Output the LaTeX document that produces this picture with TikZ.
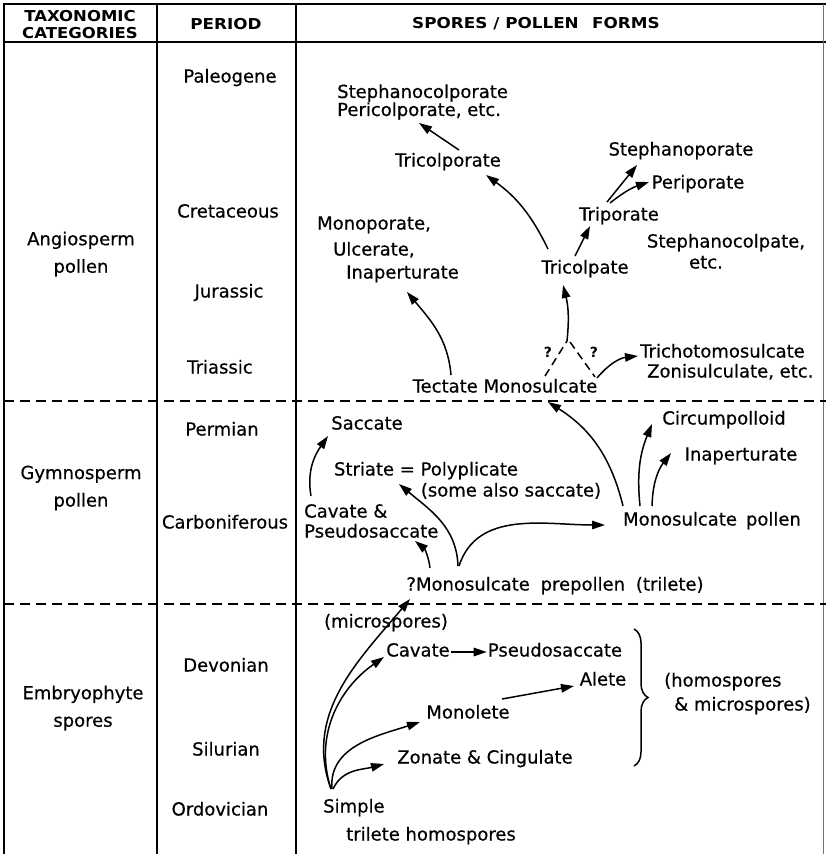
\documentclass[tikz,border=0pt]{standalone}
\usepackage{fontspec}
\setmainfont{DejaVu Sans}[FakeBold=0.5]
\newfontfamily\hdrfont{DejaVu Sans Bold}
\usetikzlibrary{arrows.meta,calc,decorations.pathreplacing}
\begin{document}
\begin{tikzpicture}[x=1pt,y=-1pt,
  lbl/.style={font=\fontsize{18}{20}\selectfont, inner sep=1pt, text height=13pt, text depth=4pt},
  ml/.style={font=\fontsize{18}{27.5}\selectfont, inner sep=1pt, align=center},
  hdr/.style={font=\hdrfont\fontsize{15}{16}\selectfont, inner sep=0pt},
  qm/.style={font=\hdrfont\fontsize{14}{16}\selectfont, inner sep=0pt},
  arr/.style={line width=1.5pt, -{Triangle[length=13pt,width=8.5pt]}},
  frame/.style={line width=1.8pt},
  sep/.style={line width=1.6pt, dash pattern=on 10pt off 6pt},
  qdash/.style={line width=1.5pt, dash pattern=on 8pt off 5pt},
]
\useasboundingbox (0,0) rectangle (826,854);
% ---------- table frame
\draw[frame] (3,4) -- (826,4);
\draw[frame] (3,42) -- (826,42);
\draw[frame] (4,4) -- (4,854);
\draw[frame] (157,4) -- (157,854);
\draw[frame] (296,4) -- (296,854);
\draw[line width=0.6pt, black!55] (823,4) -- (823,854);
\draw[sep] (4,401) -- (826,401);
\draw[sep] (4,604) -- (826,604);
% ---------- header
\node[hdr] (tax1) at (80,16) {\scalebox{1.1}[1]{TAXONOMIC}};
\node[hdr] (tax2) at (80,33) {\scalebox{1.1}[1]{CATEGORIES}};
\node[hdr] (per) at (226,24) {\scalebox{1.12}[1]{PERIOD}};
\node[hdr] (spf) at (536,24) {\scalebox{1.12}[1]{SPORES / POLLEN\hspace{0.8em}FORMS}};
% ---------- taxonomic categories
\node[ml] (angio) at (81,254) {Angiosperm\\pollen};
\node[ml] (gymno) at (81,488) {Gymnosperm\\pollen};
\node[ml] (embry) at (83,708) {Embryophyte\\spores};
% ---------- periods
\node[lbl] (paleo) at (230,78) {Paleogene};
\node[lbl] (creta) at (228,213) {Cretaceous};
\node[lbl] (jura) at (229,293) {Jurassic};
\node[lbl] (trias) at (220,369) {Triassic};
\node[lbl] (perm) at (222,431) {Permian};
\node[lbl] (carb) at (225,524) {Carboniferous};
\node[lbl] (devon) at (226,667) {Devonian};
\node[lbl] (silur) at (226,751) {Silurian};
\node[lbl] (ordov) at (220,811) {Ordovician};
% ---------- angiosperm forms
\node[font=\fontsize{18}{18}\selectfont, inner sep=1pt, align=left, anchor=west] (stcp) at (336,102) {Stephanocolporate\\Pericolporate, etc.};
\node[lbl] (tcpor) at (448,162) {Tricolporate};
\node[lbl] (stpor) at (681,151) {Stephanoporate};
\node[lbl] (pepor) at (698,184) {Periporate};
\node[lbl] (tpor) at (619,216) {Triporate};
\node[lbl, anchor=west] (mpor) at (316,225) {Monoporate,};
\node[lbl, anchor=west] (ulc) at (332,251) {Ulcerate,};
\node[lbl, anchor=west] (inapa) at (345,274) {Inaperturate};
\node[lbl] (stcpa) at (726,243) {Stephanocolpate,};
\node[lbl] (etca) at (706,264) {etc.};
\node[lbl] (tcpa) at (585,269) {Tricolpate};
\node[lbl, anchor=west] (trich) at (639,353) {Trichotomosulcate};
\node[lbl, anchor=west] (zonis) at (646,373) {Zonisulculate, etc.};
\node[lbl] (tect) at (505,388) {Tectate Monosulcate};
\node[qm] (q1) at (548,352) {?};
\node[qm] (q2) at (594,352) {?};
\coordinate (apex) at (567,341);
% ---------- gymnosperm forms
\node[lbl] (sacc) at (367,425) {Saccate};
\node[lbl] (stri) at (426,471) {Striate = Polyplicate};
\node[lbl] (some) at (511,492) {(some also saccate)};
\node[font=\fontsize{18}{20}\selectfont, inner sep=1pt, align=left, anchor=west] (cavp) at (303,521) {Cavate \&\\Pseudosaccate};
\node[lbl] (mpol) at (712,521) {Monosulcate\hspace{0.5em}pollen};
\node[lbl] (circ) at (724,420) {Circumpolloid};
\node[lbl] (inapg) at (741,456) {Inaperturate};
\node[lbl] (prep) at (555,586) {?Monosulcate\hspace{0.6em}prepollen\hspace{0.6em}(trilete)};
% ---------- embryophyte spores
\node[lbl] (micro) at (386,623) {(microspores)};
\node[lbl] (cave) at (418,652) {Cavate};
\node[lbl] (psde) at (555,652) {Pseudosaccate};
\node[lbl] (alete) at (603,681) {Alete};
\node[lbl] (monol) at (468,714) {Monolete};
\node[lbl] (zon) at (485,759) {Zonate \& Cingulate};
\node[lbl, anchor=west] (homo1) at (663,682) {(homospores};
\node[lbl, anchor=west] (homo2) at (673,706) {\& microspores)};
\node[lbl, anchor=west] (simp1) at (322,808) {Simple};
\node[lbl, anchor=west] (simp2) at (345,836) {trilete homospores};
\draw[decorate, decoration={brace, amplitude=14pt}, line width=1.5pt] (634,629) -- (634,766);
% ---------- connectors: angiosperm
\draw[arr] ($(tcpor.center)+(11,-12)$) -- ($(stcp.west)+(83,21)$);
\draw[arr] ($(tcpa.center)+(-37,-20)$) to[bend right=14] ($(tcpor.center)+(38,13)$);
\draw[arr] ($(tcpa.center)+(-10,-13)$) -- ($(tpor.center)+(-29,10)$);
\draw[arr] ($(tpor.center)+(-12,-14)$) -- ($(stpor.center)+(-44,14)$);
\draw[arr] ($(tpor.center)+(-9,-13)$) to[bend left=10] ($(pepor.center)+(-49,-2)$);
\draw[arr] ($(tect.center)+(-54,-13)$) to[out=95,in=-50] ($(inapa.west)+(62,18)$);
\draw[arr] (apex) to[bend right=10] ($(tcpa.center)+(-22,16)$);
\draw[qdash] ($(tect.center)+(40,-12)$) -- (apex);
\draw[qdash] ($(apex)+(3,1)$) -- ($(tect.center)+(90,-11)$);
\draw[arr] ($(tect.center)+(92,-10)$) to[bend left=22] ($(trich.west)+(-1,3)$);
% ---------- connectors: gymnosperm
\draw[arr] ($(mpol.center)+(-89,-15)$) to[bend right=22] ($(tect.center)+(43,14)$);
\draw[arr] ($(mpol.center)+(-72,-15)$) to[bend left=14] ($(circ.center)+(-72,4)$);
\draw[arr] ($(mpol.center)+(-60,-15)$) to[bend left=18] ($(inapg.center)+(-70,-3)$);
\draw[arr] ($(cavp.west)+(8,-25)$) to[out=100,in=-125] ($(sacc.center)+(-39,11)$);
\draw[arr] ($(prep.center)+(-125,-18)$) to[bend right=22] ($(cavp.west)+(112,20)$);
\draw[arr] ($(prep.center)+(-97,-20)$) to[out=92,in=-40] ($(stri.center)+(-27,13)$);
\draw[arr] ($(prep.center)+(-96,-20)$) to[out=72,in=180] ($(mpol.center)+(-107,4)$);
% ---------- connectors: embryophyte
\draw[arr] ($(simp1.west)+(9,-19)$) to[out=110,in=-130] ($(prep.center)+(-145,13)$);
\draw[arr] ($(simp1.west)+(9,-19)$) to[out=108,in=-145] ($(cave.center)+(-34,5)$);
\draw[arr] ($(simp1.west)+(10,-19)$) to[out=95,in=-162] ($(monol.center)+(-48,8)$);
\draw[arr] ($(simp1.west)+(11,-19)$) to[out=65,in=-165] ($(zon.center)+(-101,5)$);
\draw[arr] (cave.east) -- (psde.west);
\draw[arr] ($(monol.center)+(34,-15)$) -- ($(alete.center)+(-29,5)$);
\end{tikzpicture}
\end{document}
